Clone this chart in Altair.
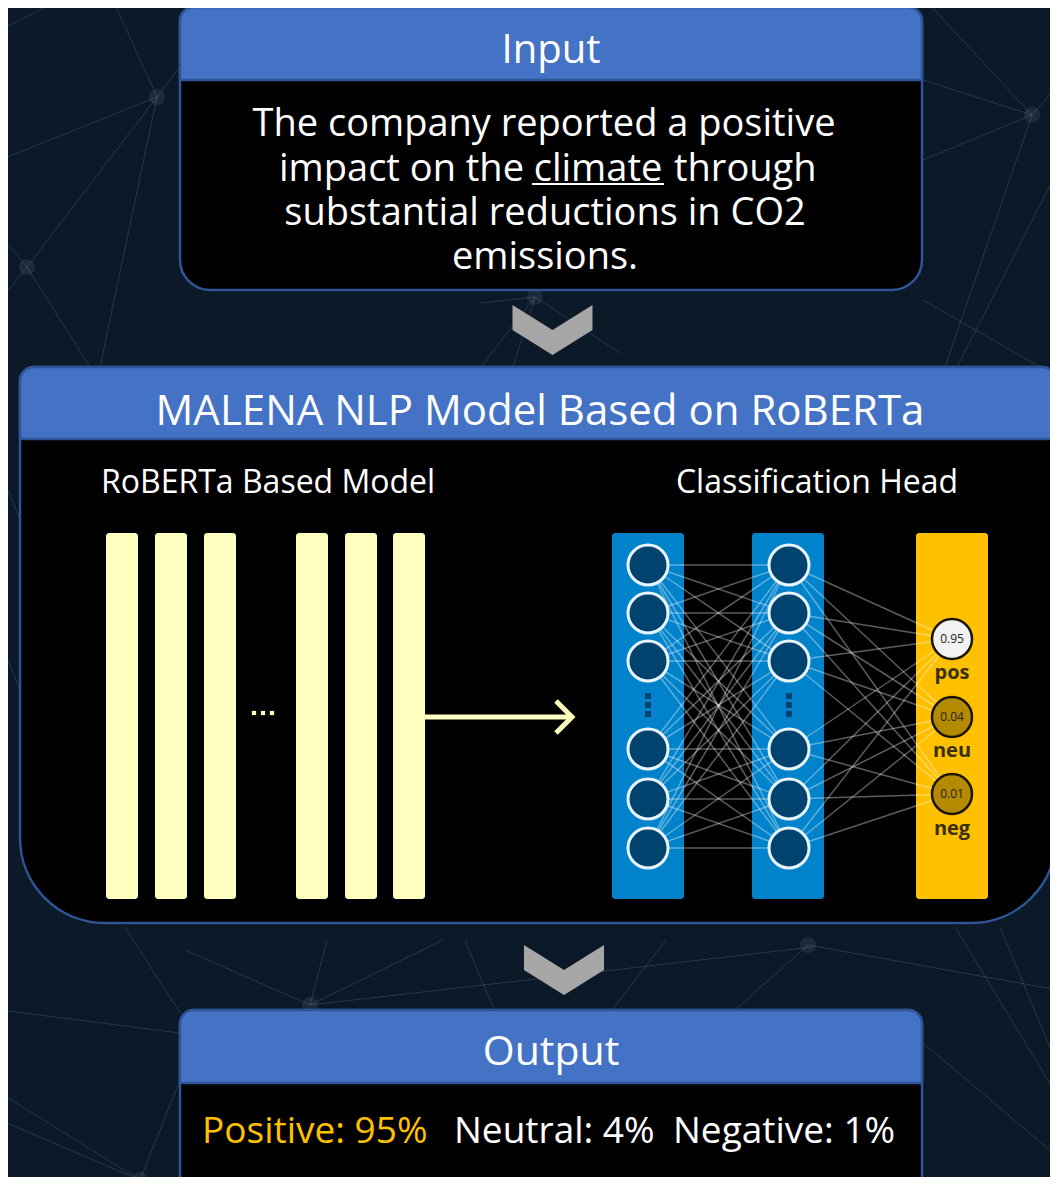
import altair as alt
import pandas as pd

# ---------------- palette / fonts ----------------
BG = "#0b1929"
BORDER = "#2f5597"
HEADER = "#4472c4"
FONT = "Open Sans"
BAR_YELLOW = "#ffffc0"
NN_BLUE = "#0083cb"
NODE_FILL = "#00436f"
GOLD = "#ffc000"

# ---------------- canvas (reference pixel frame) ----------------
X0, X1 = 8, 1050
Y0, Y1 = 8, 1177
W, H = X1 - X0, Y1 - Y0
xs = alt.Scale(domain=[X0, X1], nice=False, zero=False)
ys = alt.Scale(domain=[Y0, Y1], nice=False, zero=False, reverse=True)

# ---------------- data ----------------
# boxes: Input, MALENA, Output
box_names = ["Input", "MALENA NLP Model Based on RoBERTa", "Output"]
box_x = [180, 20, 180]
box_x2 = [922, 1056, 922]
box_y = [7, 367, 1010]
box_y2 = [290, 923, 1200]
box_head = [80, 439, 1083]
box_r_top = [14, 14, 14]
box_r_bot = [30, 85, 14]

input_lines = ["The company reported a positive",
               "substantial reductions in CO2",
               "emissions."]
input_line_y = [136, 225, 269]
line2_parts = ["impact on the", "climate", "through"]

roberta_bar_x = [106, 155, 204, 296, 345, 393]
bar_top, bar_bottom, bar_w = 533, 899, 32

col_x = [648, 789]
col_rect_x = [612, 752]
col_w = 72
node_y = [565, 613, 661, 749, 799, 848]
gap_dot_y = [696, 705, 714]

out_x = 952
out_y = [639, 717, 794]
out_vals = ["0.95", "0.04", "0.01"]
out_fill = ["#f2f2f2", "#b38a00", "#b38a00"]
out_labels = ["pos", "neu", "neg"]
out_label_y = [673, 751, 829]

result_text = ["Positive: 95%", "Neutral: 4%", "Negative: 1%"]
result_x = [202, 454, 673]
result_color = [GOLD, "white", "white"]

# faint background network lines (x1, y1, x2, y2)
bg_lines = [
    (113, 0, 157, 97), (157, 97, 0, 160), (157, 97, 27, 267), (157, 97, 100, 367),
    (157, 97, 185, 60), (27, 267, 0, 235), (27, 267, 90, 367), (27, 267, 0, 300),
    (0, 30, 60, 0), (923, 80, 1032, 115), (1032, 115, 923, 160), (1032, 115, 1058, 85),
    (1032, 115, 945, 367), (925, 0, 1032, 115), (1058, 170, 957, 367),
    (480, 368, 535, 297), (535, 297, 513, 367), (535, 297, 620, 353), (480, 303, 535, 297),
    (185, 950, 310, 1005), (327, 940, 310, 1005), (443, 940, 310, 1005), (310, 1005, 813, 947),
    (465, 940, 494, 1010), (666, 940, 612, 1010), (808, 945, 735, 1010), (808, 945, 1058, 990),
    (0, 1010, 180, 1033), (0, 1093, 140, 1180), (0, 1120, 140, 1180), (140, 1180, 180, 1080),
    (125, 927, 180, 1013), (955, 927, 1058, 1097), (1000, 927, 1058, 1067), (923, 1043, 1058, 1157),
    (923, 300, 1040, 367), (0, 470, 20, 520), (0, 640, 20, 690),
]
glow_nodes = [(157, 97), (1032, 115), (535, 297), (310, 1005), (140, 1180), (27, 267), (808, 945)]


# ---------------- helpers ----------------
def X(f="x"):
    return alt.X(f"{f}:Q", scale=xs, axis=None)


def Y(f="y"):
    return alt.Y(f"{f}:Q", scale=ys, axis=None)


def rects(df, **mark):
    return alt.Chart(df).mark_rect(**mark).encode(
        x=X(), x2=alt.X2("x2:Q"), y=Y(), y2=alt.Y2("y2:Q"))


def segs(df, **mark):
    return alt.Chart(df).mark_rule(**mark).encode(
        x=X(), x2=alt.X2("x2:Q"), y=Y(), y2=alt.Y2("y2:Q"))


def texts(items, align="center", **mark):
    df = pd.DataFrame(items, columns=["t", "x", "y"])
    return alt.Chart(df).mark_text(align=align, baseline="alphabetic", font=FONT, **mark).encode(
        x=X(), y=Y(), text="t:N")


layers = []

# background lines & glows
bg_df = pd.DataFrame(bg_lines, columns=["x", "y", "x2", "y2"])
layers.append(segs(bg_df, color="#8ea3bd", strokeWidth=1, opacity=0.22))
glow_df = pd.DataFrame(glow_nodes, columns=["x", "y"])
layers.append(alt.Chart(glow_df).mark_point(shape="circle", filled=True, size=260, color="#9fb2c8",
                                            opacity=0.12).encode(x=X(), y=Y()))

# boxes
for i in range(3):
    outer = pd.DataFrame({"x": [box_x[i]], "x2": [box_x2[i]], "y": [box_y[i]], "y2": [box_y2[i]]})
    layers.append(rects(outer, color="black", stroke=BORDER, strokeWidth=2.5,
                        cornerRadiusTopLeft=box_r_top[i], cornerRadiusTopRight=box_r_top[i],
                        cornerRadiusBottomLeft=box_r_bot[i], cornerRadiusBottomRight=box_r_bot[i]))
    head = pd.DataFrame({"x": [box_x[i]], "x2": [box_x2[i]], "y": [box_y[i]], "y2": [box_head[i]]})
    layers.append(rects(head, color=HEADER, stroke=BORDER, strokeWidth=2.5,
                        cornerRadiusTopLeft=box_r_top[i], cornerRadiusTopRight=box_r_top[i]))

# box titles
layers.append(texts([("Input", 551, 63)], fontSize=40, color="white"))
layers.append(texts([(box_names[1], 540, 425)], fontSize=42, color="white"))
layers.append(texts([("Output", 551, 1065)], fontSize=41, color="white"))

# input sentence
layers.append(texts([(input_lines[0], 544, input_line_y[0]),
                     (input_lines[1], 545, input_line_y[1]),
                     (input_lines[2], 545, input_line_y[2])], fontSize=38, color="white"))
layers.append(texts([(line2_parts[0], 524, 181)], align="right", fontSize=38, color="white"))
layers.append(texts([(line2_parts[1], 598, 181)], align="center", fontSize=38, color="white"))
layers.append(texts([(line2_parts[2], 674, 181)], align="left", fontSize=38, color="white"))
layers.append(segs(pd.DataFrame({"x": [532], "x2": [664], "y": [184], "y2": [184]}),
                   color="white", strokeWidth=2))

# chevrons
chev_df = pd.DataFrame({"x": [552.5, 564], "y": [330, 970]})
layers.append(alt.Chart(chev_df).mark_point(
    shape="M-1,-0.625 L0,0 L1,-0.625 L1,0 L0,0.625 L-1,0 Z", filled=True, size=6400,
    color="#a6a6a6", opacity=1, strokeWidth=0).encode(x=X(), y=Y()))

# sub headings
layers.append(texts([("RoBERTa Based Model", 101, 493)], align="left", fontSize=32, color="white"))
layers.append(texts([("Classification Head", 817, 493)], align="center", fontSize=32, color="white"))

# RoBERTa layers
bars = pd.DataFrame({"x": roberta_bar_x, "x2": [v + bar_w for v in roberta_bar_x],
                     "y": [bar_top] * 6, "y2": [bar_bottom] * 6})
layers.append(rects(bars, color=BAR_YELLOW, cornerRadius=3))
dots = pd.DataFrame({"x": [254, 263, 272], "y": [713, 713, 713]})
layers.append(alt.Chart(dots).mark_square(size=18, color=BAR_YELLOW, opacity=1).encode(x=X(), y=Y()))

# arrow
layers.append(segs(pd.DataFrame({"x": [425], "x2": [569], "y": [717], "y2": [717]}),
                   color=BAR_YELLOW, strokeWidth=5))
arrow_head = pd.DataFrame({"x": [556, 572, 556], "y": [701, 717, 733], "o": [0, 1, 2]})
layers.append(alt.Chart(arrow_head).mark_line(color=BAR_YELLOW, strokeWidth=5, strokeJoin="miter").encode(
    x=X(), y=Y(), order="o:O"))

# classification head columns
cols = pd.DataFrame({"x": col_rect_x, "x2": [v + col_w for v in col_rect_x],
                     "y": [bar_top] * 2, "y2": [bar_bottom] * 2})
layers.append(rects(cols, color=NN_BLUE, cornerRadius=3))
layers.append(rects(pd.DataFrame({"x": [916], "x2": [988], "y": [bar_top], "y2": [bar_bottom]}),
                    color=GOLD, cornerRadius=3))

# edges
edge_rows = []
for ya in node_y:
    for yb in node_y:
        edge_rows.append((col_x[0], ya, col_x[1], yb))
for ya in node_y:
    for yb in out_y:
        edge_rows.append((col_x[1], ya, out_x, yb))
edges = pd.DataFrame(edge_rows, columns=["x", "y", "x2", "y2"])
layers.append(segs(edges, color="white", strokeWidth=1.5, opacity=0.36))

# nodes
nodes = pd.DataFrame([(cx, cy) for cx in col_x for cy in node_y], columns=["x", "y"])
layers.append(alt.Chart(nodes).mark_point(shape="circle", filled=True, size=1600, fill=NODE_FILL,
                                          stroke="#e8f4ff", strokeWidth=3, opacity=1).encode(x=X(), y=Y()))
gaps = pd.DataFrame([(cx, gy) for cx in col_x for gy in gap_dot_y], columns=["x", "y"])
layers.append(alt.Chart(gaps).mark_square(size=36, color=NODE_FILL, opacity=1).encode(x=X(), y=Y()))

# output nodes
outs = pd.DataFrame({"x": [out_x] * 3, "y": out_y, "f": out_fill, "t": out_vals})
layers.append(alt.Chart(outs).mark_point(shape="circle", filled=True, size=1600, stroke="#1a1400",
                                         strokeWidth=2.5, opacity=1).encode(
    x=X(), y=Y(), fill=alt.Fill("f:N", scale=None)))
layers.append(alt.Chart(outs).mark_text(font=FONT, fontSize=12, color="#222222", baseline="middle").encode(
    x=X(), y=Y(), text="t:N"))
labs = pd.DataFrame({"x": [out_x] * 3, "y": out_label_y, "t": out_labels})
layers.append(alt.Chart(labs).mark_text(font=FONT, fontSize=20, fontWeight="bold", color="#3a2f00",
                                        baseline="middle").encode(x=X(), y=Y(), text="t:N"))

# output result line
res = pd.DataFrame({"t": result_text, "x": result_x, "y": [1143] * 3, "c": result_color})
layers.append(alt.Chart(res).mark_text(font=FONT, fontSize=37, align="left", baseline="alphabetic").encode(
    x=X(), y=Y(), text="t:N", color=alt.Color("c:N", scale=None)))

chart = alt.layer(*layers).properties(
    width=W, height=H, background=BG, padding=0,
    autosize=alt.AutoSizeParams(type="none"),
).configure_view(stroke=None)

chart.save("out.html", embed_options={"renderer": "svg", "actions": False})
